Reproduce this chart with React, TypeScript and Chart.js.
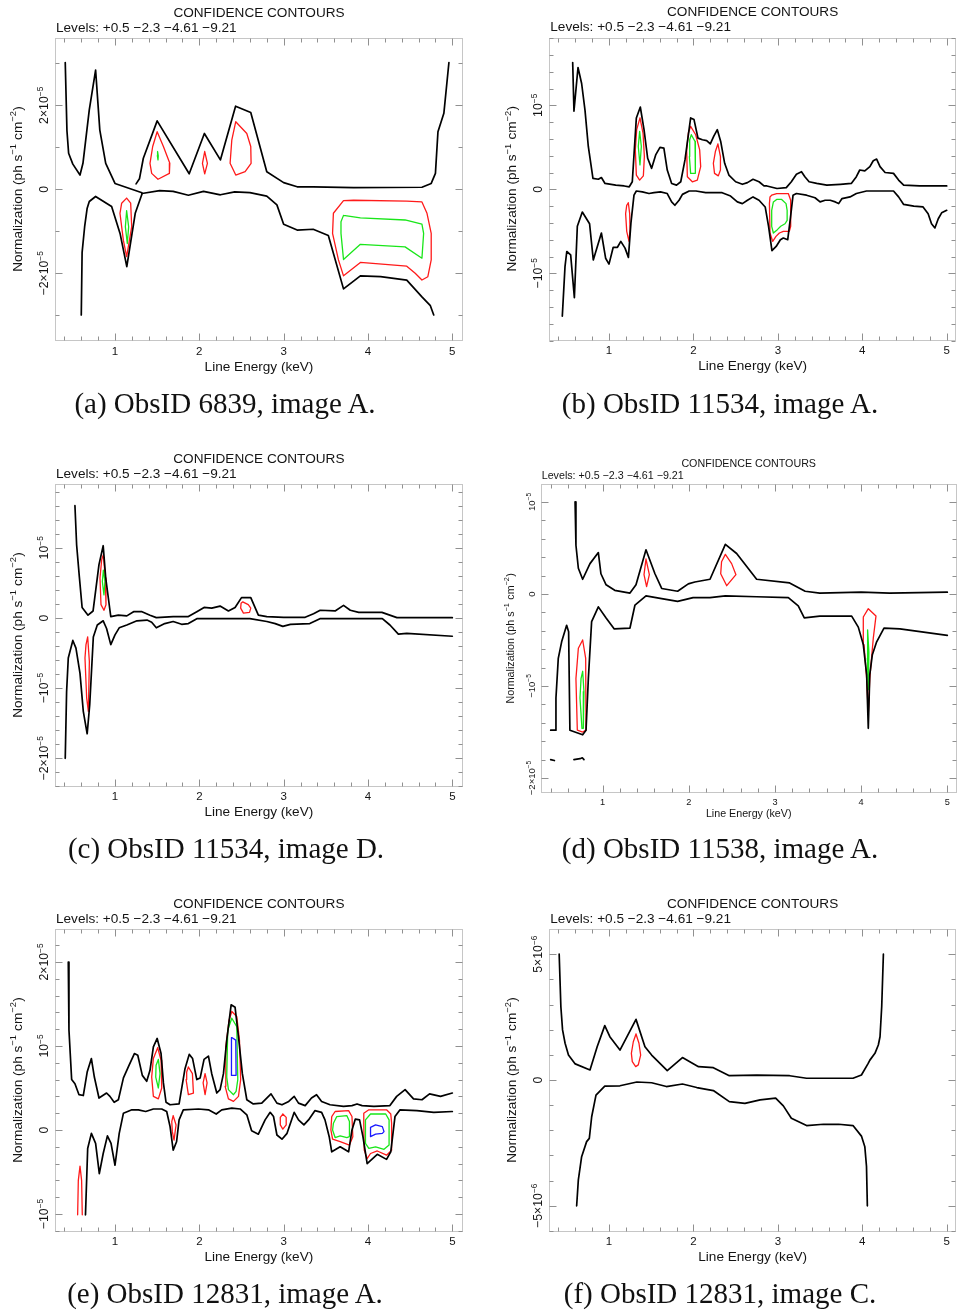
import React, { useEffect, useRef } from 'react';
import { Chart, registerables } from 'chart.js';

Chart.register(...registerables);

type P = [number, number];

// Normalization values are in units of 1e-5 (panel f: 1e-6); energies in keV.

// ---- (a) ObsID 6839, image A ----
const aUpperLeft: P[] = [[0.41, 3.02], [0.43, 1.4], [0.45, 0.86], [0.5, 0.6], [0.585, 0.34], [0.62, 0.62], [0.695, 1.89], [0.77, 2.84], [0.82, 1.41], [0.89, 0.62], [1.0, 0.14], [1.32, -0.08]];
const aUpperRight: P[] = [[1.25, 0.13], [1.29, 0.25], [1.336, 0.74], [1.5, 1.63], [1.88, 0.37], [2.06, 1.33], [2.25, 0.7], [2.43, 1.98], [2.61, 1.83], [2.8, 0.42], [3.0, 0.16], [3.16, 0.06], [3.35, 0.06], [3.83, 0.04], [4.64, 0.05], [4.75, 0.14], [4.8, 0.38], [4.83, 1.37], [4.9, 1.81], [4.96, 3.02]];
const aLowerLeft: P[] = [[0.6, -2.99], [0.61, -1.5], [0.64, -0.89], [0.67, -0.45], [0.695, -0.29], [0.77, -0.17], [0.96, -0.41], [1.06, -1.05], [1.14, -1.84], [1.24, -0.57], [1.32, -0.11]];
const aLowerRight: P[] = [[1.32, -0.1], [1.53, -0.03], [1.69, -0.05], [1.87, -0.14], [2.05, -0.05], [2.25, -0.13], [2.42, -0.06], [2.6, -0.08], [2.8, -0.16], [2.92, -0.37], [3.0, -0.83], [3.16, -0.97], [3.35, -0.95], [3.53, -1.1], [3.71, -2.37], [3.91, -2.06], [4.15, -2.08], [4.46, -2.16], [4.64, -2.56], [4.74, -2.77], [4.78, -2.99]];
const aRed1: P[] = [[1.5, 1.37], [1.574, 1.02], [1.65, 0.62], [1.645, 0.38], [1.51, 0.24], [1.435, 0.38], [1.415, 0.62], [1.447, 1.02]];
const aGreen1: P[] = [[1.505, 0.9], [1.513, 0.8], [1.51, 0.7], [1.502, 0.8]];
const aRed2: P[] = [[2.064, 0.9], [2.096, 0.62], [2.064, 0.37], [2.037, 0.62]];
const aRed3: P[] = [[2.432, 1.61], [2.563, 1.33], [2.61, 1.02], [2.614, 0.62], [2.543, 0.42], [2.432, 0.34], [2.365, 0.62], [2.385, 1.17]];
const aRed4: P[] = [[1.138, -0.21], [1.186, -0.33], [1.198, -0.89], [1.158, -1.37], [1.138, -1.6], [1.099, -1.21], [1.059, -0.57], [1.079, -0.33]];
const aGreen4: P[] = [[1.138, -0.51], [1.162, -0.89], [1.146, -1.29], [1.123, -0.89]];
const aRed5: P[] = [[3.59, -0.57], [3.71, -0.27], [3.83, -0.26], [4.46, -0.28], [4.64, -0.3], [4.7, -0.57], [4.75, -1.05], [4.75, -1.68], [4.71, -2.08], [4.64, -2.16], [4.56, -2.0], [4.46, -1.83], [3.91, -1.74], [3.71, -2.06], [3.65, -1.68], [3.58, -1.05]];
const aGreen5: P[] = [[3.71, -0.62], [3.91, -0.68], [4.44, -0.73], [4.64, -0.83], [4.66, -1.05], [4.64, -1.64], [4.44, -1.37], [3.91, -1.31], [3.71, -1.67], [3.68, -1.05], [3.68, -0.77]];
const aYTicks = [-2, 0, 2];
const aYLabels: [string, string][] = [['−2×10', '−5'], ['0', ''], ['2×10', '−5']];

// ---- (b) ObsID 11534, image A ----
const bUpper: P[] = [[0.57, 1.51], [0.585, 0.93], [0.633, 1.45], [0.676, 1.26], [0.716, 0.94], [0.755, 0.51], [0.81, 0.13], [0.874, 0.12], [0.91, 0.14], [0.953, 0.07], [1.08, 0.05], [1.18, 0.04], [1.24, 0.03], [1.276, 0.09], [1.324, 0.85], [1.371, 0.98], [1.415, 0.71], [1.458, 0.37], [1.505, 0.25], [1.553, 0.41], [1.604, 0.5], [1.65, 0.49], [1.69, 0.23], [1.742, 0.07], [1.8, 0.05], [1.85, 0.09], [1.9, 0.35], [1.967, 0.85], [2.007, 0.83], [2.054, 0.61], [2.106, 0.59], [2.157, 0.58], [2.2, 0.54], [2.24, 0.63], [2.283, 0.71], [2.323, 0.57], [2.37, 0.31], [2.42, 0.17], [2.5, 0.09], [2.58, 0.06], [2.64, 0.08], [2.706, 0.12], [2.777, 0.09], [2.836, 0.04], [2.87, 0.04], [2.99, 0.01], [3.1, 0.02], [3.16, 0.09], [3.22, 0.18], [3.28, 0.21], [3.32, 0.15], [3.37, 0.09], [3.46, 0.07], [3.58, 0.05], [3.74, 0.06], [3.87, 0.07], [3.93, 0.15], [3.97, 0.23], [4.03, 0.22], [4.09, 0.27], [4.13, 0.34], [4.17, 0.36], [4.21, 0.27], [4.27, 0.2], [4.37, 0.19], [4.43, 0.11], [4.49, 0.05], [4.68, 0.04], [5.0, 0.04]];
const bLower: P[] = [[0.447, -1.51], [0.479, -0.92], [0.5, -0.74], [0.546, -0.78], [0.59, -1.29], [0.625, -0.44], [0.684, -0.27], [0.77, -0.41], [0.814, -0.84], [0.91, -0.52], [0.96, -0.82], [1.0, -0.89], [1.05, -0.69], [1.1, -0.69], [1.14, -0.62], [1.19, -0.7], [1.23, -0.81], [1.26, -0.4], [1.296, -0.07], [1.324, -0.02], [1.395, -0.03], [1.474, -0.05], [1.533, -0.04], [1.61, -0.03], [1.69, -0.05], [1.742, -0.15], [1.78, -0.19], [1.83, -0.13], [1.87, -0.06], [1.95, -0.02], [2.03, -0.02], [2.145, -0.04], [2.34, -0.04], [2.44, -0.08], [2.52, -0.15], [2.58, -0.17], [2.64, -0.13], [2.706, -0.09], [2.777, -0.13], [2.85, -0.21], [2.89, -0.44], [2.93, -0.73], [2.98, -0.68], [3.03, -0.6], [3.065, -0.58], [3.117, -0.6], [3.15, -0.33], [3.18, -0.07], [3.22, -0.05], [3.34, -0.07], [3.44, -0.1], [3.5, -0.15], [3.56, -0.13], [3.62, -0.13], [3.68, -0.15], [3.72, -0.17], [3.76, -0.11], [3.855, -0.09], [3.93, -0.05], [4.05, -0.02], [4.37, -0.02], [4.43, -0.09], [4.49, -0.18], [4.61, -0.2], [4.72, -0.21], [4.78, -0.29], [4.82, -0.41], [4.86, -0.46], [4.9, -0.35], [4.94, -0.28], [5.0, -0.25]];
const bRed1: P[] = [[1.367, 0.85], [1.403, 0.67], [1.419, 0.39], [1.407, 0.16], [1.363, 0.11], [1.324, 0.17], [1.312, 0.47], [1.328, 0.71]];
const bGreen1: P[] = [[1.363, 0.69], [1.383, 0.51], [1.367, 0.29], [1.347, 0.51]];
const bRed2: P[] = [[1.967, 0.75], [2.027, 0.65], [2.074, 0.47], [2.086, 0.27], [2.046, 0.11], [1.987, 0.09], [1.928, 0.15], [1.92, 0.47], [1.94, 0.67]];
const bGreen2: P[] = [[1.975, 0.65], [2.019, 0.57], [2.027, 0.35], [2.019, 0.19], [1.967, 0.19], [1.952, 0.39], [1.956, 0.59]];
const bRed3: P[] = [[2.29, 0.54], [2.32, 0.39], [2.32, 0.23], [2.295, 0.16], [2.25, 0.19], [2.236, 0.31], [2.26, 0.45]];
const bRed4: P[] = [[1.229, -0.16], [1.245, -0.29], [1.249, -0.48], [1.237, -0.62], [1.21, -0.5], [1.197, -0.29], [1.21, -0.19]];
const bRed5: P[] = [[2.927, -0.07], [2.986, -0.05], [3.124, -0.05], [3.152, -0.13], [3.152, -0.44], [3.136, -0.5], [3.065, -0.5], [3.018, -0.52], [2.978, -0.56], [2.939, -0.62], [2.907, -0.52], [2.9, -0.17], [2.907, -0.09]];
const bGreen5: P[] = [[2.947, -0.15], [2.986, -0.12], [3.045, -0.12], [3.097, -0.17], [3.11, -0.25], [3.11, -0.37], [3.085, -0.41], [3.034, -0.44], [2.994, -0.48], [2.947, -0.52], [2.927, -0.44], [2.927, -0.25]];
const bYTicks = [-1, 0, 1];
const bYLabels: [string, string][] = [['−10', '−5'], ['0', ''], ['10', '−5']];

// ---- (c) ObsID 11534, image D ----
const cUpper: P[] = [[0.525, 1.6], [0.545, 1.04], [0.577, 0.59], [0.61, 0.15], [0.68, 0.04], [0.74, 0.1], [0.81, 0.76], [0.86, 1.03], [0.89, 0.57], [0.95, 0.02], [1.04, 0.04], [1.14, 0.03], [1.22, 0.09], [1.32, 0.09], [1.415, 0.04], [1.49, 0.005], [1.69, 0.02], [1.87, 0.02], [1.97, 0.09], [2.056, 0.15], [2.147, 0.14], [2.246, 0.17], [2.345, 0.1], [2.424, 0.15], [2.5, 0.29], [2.61, 0.29], [2.7, 0.04], [2.8, 0.02], [3.0, 0.01], [3.255, 0.01], [3.354, 0.06], [3.433, 0.11], [3.61, 0.1], [3.71, 0.18], [3.79, 0.11], [3.89, 0.08], [4.165, 0.08], [4.343, 0.005], [5.0, 0.005]];
const cLower: P[] = [[0.41, -2.0], [0.426, -1.05], [0.446, -0.57], [0.5, -0.32], [0.537, -0.43], [0.585, -0.79], [0.624, -1.33], [0.67, -1.65], [0.7, -1.24], [0.743, -0.27], [0.79, -0.1], [0.86, -0.04], [0.9, -0.15], [0.95, -0.38], [1.0, -0.24], [1.05, -0.14], [1.14, -0.1], [1.26, -0.04], [1.38, -0.03], [1.435, -0.06], [1.49, -0.14], [1.59, -0.08], [1.69, -0.05], [1.79, -0.09], [1.87, -0.08], [1.97, -0.01], [2.4, -0.01], [2.6, -0.01], [2.8, -0.05], [2.9, -0.08], [2.99, -0.12], [3.08, -0.09], [3.31, -0.08], [3.43, -0.01], [4.17, -0.01], [4.26, -0.1], [4.36, -0.23], [4.46, -0.22], [5.0, -0.26]];
const cRed1: P[] = [[0.862, 0.9], [0.885, 0.57], [0.893, 0.19], [0.869, 0.11], [0.834, 0.19], [0.822, 0.57], [0.842, 0.83]];
const cGreen1: P[] = [[0.862, 0.68], [0.881, 0.52], [0.869, 0.33], [0.85, 0.52]];
const cRed2: P[] = [[0.676, -0.27], [0.696, -0.62], [0.684, -1.33], [0.664, -1.14], [0.644, -0.57], [0.656, -0.38]];
const cRed3: P[] = [[2.515, 0.23], [2.58, 0.19], [2.61, 0.14], [2.595, 0.08], [2.523, 0.07], [2.49, 0.14], [2.495, 0.21]];
const cYTicks = [-2, -1, 0, 1];
const cYLabels: [string, string][] = [['−2×10', '−5'], ['−10', '−5'], ['0', ''], ['10', '−5']];

// ---- (d) ObsID 11538, image A ----
const dUpper: P[] = [[0.68, 1.0], [0.69, 0.53], [0.718, 0.28], [0.768, 0.16], [0.853, 0.33], [0.95, 0.45], [0.98, 0.22], [1.04, 0.1], [1.14, 0.04], [1.317, 0.01], [1.387, 0.1], [1.503, 0.48], [1.607, 0.22], [1.685, 0.06], [1.87, 0.03], [1.994, 0.11], [2.07, 0.13], [2.246, 0.16], [2.424, 0.54], [2.555, 0.44], [2.787, 0.16], [3.17, 0.12], [3.35, 0.03], [3.52, 0.01], [4.0, 0.02], [4.33, 0.01], [5.0, 0.02]];
const dLower: P[] = [[0.397, -1.48], [0.447, -1.48], [0.458, -1.13], [0.485, -0.7], [0.524, -0.52], [0.582, -0.34], [0.605, -0.41], [0.62, -1.48], [0.768, -1.53], [0.807, -1.48], [0.834, -0.92], [0.872, -0.3], [0.95, -0.14], [1.04, -0.26], [1.135, -0.38], [1.317, -0.37], [1.375, -0.12], [1.503, -0.02], [1.685, -0.05], [1.87, -0.08], [2.05, -0.04], [2.246, -0.04], [2.424, -0.02], [2.787, -0.03], [3.155, -0.04], [3.27, -0.13], [3.34, -0.26], [3.52, -0.24], [3.89, -0.24], [3.967, -0.36], [4.025, -0.55], [4.064, -0.88], [4.083, -1.46], [4.1, -0.88], [4.13, -0.66], [4.18, -0.52], [4.265, -0.37], [4.45, -0.38], [5.0, -0.45]];
const dStubLeft: P[] = [[0.397, -1.8], [0.44, -1.81]];
const dStubMid: P[] = [[0.667, -1.8], [0.737, -1.79], [0.764, -1.78], [0.783, -1.8]];
const dRed1: P[] = [[1.503, 0.38], [1.542, 0.21], [1.51, 0.08], [1.48, 0.21]];
const dRed2: P[] = [[2.424, 0.43], [2.497, 0.33], [2.547, 0.21], [2.44, 0.09], [2.37, 0.22], [2.38, 0.35]];
const dRed3: P[] = [[0.768, -0.5], [0.803, -0.7], [0.807, -1.48], [0.768, -1.5], [0.706, -1.48], [0.69, -0.92], [0.718, -0.59]];
const dGreen3: P[] = [[0.768, -0.84], [0.783, -1.06], [0.776, -1.46], [0.76, -1.46], [0.737, -1.13], [0.749, -0.92]];
const dRed4: P[] = [[4.025, -0.25], [4.083, -0.16], [4.172, -0.24], [4.141, -0.48], [4.1, -0.92], [4.083, -1.31], [4.064, -0.92], [4.033, -0.55]];
const dGreen4: P[] = [[4.075, -0.39], [4.09, -0.63], [4.083, -1.04], [4.072, -0.7]];
const dYTicks = [-2, -1, 0, 1];
const dYLabels: [string, string][] = [['−2×10', '−5'], ['−10', '−5'], ['0', ''], ['10', '−5']];

// ---- (e) ObsID 12831, image A ----
const eUpper: P[] = [[0.446, 2.0], [0.454, 1.19], [0.486, 0.6], [0.525, 0.55], [0.573, 0.42], [0.624, 0.41], [0.67, 0.69], [0.72, 0.85], [0.755, 0.63], [0.81, 0.38], [0.9, 0.44], [0.94, 0.4], [0.99, 0.33], [1.04, 0.36], [1.1, 0.62], [1.166, 0.77], [1.23, 0.91], [1.27, 0.89], [1.324, 0.65], [1.376, 0.58], [1.415, 0.71], [1.455, 0.99], [1.5, 1.09], [1.546, 0.91], [1.574, 0.56], [1.605, 0.33], [1.653, 0.3], [1.76, 0.31], [1.83, 0.73], [1.88, 0.9], [1.92, 0.85], [1.97, 0.6], [2.01, 0.62], [2.056, 0.84], [2.108, 0.88], [2.147, 0.67], [2.207, 0.44], [2.246, 0.48], [2.286, 0.67], [2.325, 1.07], [2.377, 1.49], [2.424, 1.46], [2.464, 1.11], [2.51, 0.67], [2.563, 0.36], [2.64, 0.31], [2.74, 0.32], [2.85, 0.43], [2.92, 0.32], [2.98, 0.3], [3.06, 0.34], [3.125, 0.4], [3.176, 0.32], [3.255, 0.29], [3.33, 0.38], [3.39, 0.42], [3.45, 0.34], [3.55, 0.3], [3.71, 0.28], [3.81, 0.29], [3.87, 0.31], [3.93, 0.29], [4.07, 0.28], [4.26, 0.29], [4.34, 0.4], [4.44, 0.48], [4.54, 0.37], [4.64, 0.36], [4.73, 0.43], [4.86, 0.4], [5.0, 0.44]];
const eLower: P[] = [[0.65, -1.01], [0.676, -0.22], [0.72, -0.04], [0.77, -0.16], [0.814, -0.52], [0.86, -0.28], [0.91, -0.07], [0.953, -0.16], [1.0, -0.42], [1.05, -0.04], [1.1, 0.2], [1.2, 0.24], [1.277, 0.24], [1.364, 0.22], [1.455, 0.25], [1.554, 0.25], [1.613, 0.22], [1.653, 0.04], [1.69, -0.24], [1.73, -0.14], [1.76, 0.12], [1.81, 0.24], [1.99, 0.25], [2.108, 0.24], [2.2, 0.19], [2.266, 0.24], [2.385, 0.26], [2.484, 0.25], [2.563, 0.18], [2.62, -0.01], [2.7, -0.05], [2.78, 0.12], [2.84, 0.21], [2.88, 0.16], [2.92, -0.06], [2.98, -0.11], [3.04, -0.04], [3.125, 0.21], [3.176, 0.12], [3.24, 0.06], [3.295, 0.12], [3.37, 0.23], [3.45, 0.21], [3.49, 0.12], [3.54, -0.08], [3.57, -0.26], [3.67, -0.2], [3.77, -0.26], [3.81, 0.0], [3.85, 0.13], [3.9, 0.12], [3.94, -0.08], [3.99, -0.4], [4.11, -0.29], [4.22, -0.35], [4.27, -0.26], [4.32, 0.16], [4.38, 0.24], [4.58, 0.23], [4.78, 0.21], [5.0, 0.22]];
const eRed1: P[] = [[1.506, 0.98], [1.546, 0.83], [1.554, 0.5], [1.514, 0.37], [1.455, 0.4], [1.435, 0.63], [1.455, 0.85]];
const eGreen1: P[] = [[1.514, 0.84], [1.534, 0.67], [1.514, 0.5], [1.483, 0.63], [1.487, 0.77]];
const eRed2: P[] = [[1.87, 0.75], [1.918, 0.67], [1.93, 0.44], [1.87, 0.42], [1.843, 0.6], [1.85, 0.69]];
const eRed3: P[] = [[2.068, 0.67], [2.092, 0.56], [2.068, 0.42], [2.045, 0.56]];
const eRed4: P[] = [[2.385, 1.41], [2.444, 1.35], [2.476, 1.07], [2.49, 0.6], [2.464, 0.4], [2.405, 0.34], [2.345, 0.37], [2.306, 0.52], [2.314, 0.99], [2.353, 1.31]];
const eGreen4: P[] = [[2.385, 1.33], [2.444, 1.23], [2.456, 0.6], [2.436, 0.46], [2.405, 0.42], [2.345, 0.48], [2.325, 0.63], [2.337, 1.19]];
const eBlue4: P[] = [[2.385, 1.1], [2.432, 1.07], [2.436, 0.65], [2.385, 0.65], [2.377, 0.91]];
const eRed5: P[] = [[1.69, 0.17], [1.724, 0.06], [1.7, -0.12], [1.68, -0.02], [1.673, 0.1]];
const eRed6: P[] = [[0.557, -1.01], [0.565, -0.6], [0.585, -0.43], [0.604, -0.6], [0.612, -1.01]];
const eRed7: P[] = [[2.99, 0.19], [3.03, 0.15], [3.03, 0.06], [2.99, 0.01], [2.96, 0.06], [2.96, 0.15]];
const eRed8: P[] = [[3.57, 0.16], [3.61, 0.22], [3.77, 0.23], [3.81, 0.16], [3.82, -0.08], [3.78, -0.18], [3.67, -0.14], [3.58, -0.11], [3.56, 0.0]];
const eGreen8: P[] = [[3.59, 0.08], [3.63, 0.16], [3.75, 0.17], [3.78, 0.1], [3.78, -0.08], [3.75, -0.09], [3.67, -0.07], [3.61, -0.09], [3.58, 0.0]];
const eRed9: P[] = [[3.95, 0.2], [4.01, 0.24], [4.22, 0.24], [4.27, 0.19], [4.28, 0.08], [4.28, -0.24], [4.22, -0.3], [4.11, -0.25], [4.03, -0.28], [3.99, -0.34], [3.955, -0.24], [3.95, 0.08]];
const eGreen9: P[] = [[3.97, 0.12], [4.03, 0.19], [4.21, 0.19], [4.25, 0.12], [4.25, -0.18], [4.19, -0.23], [4.09, -0.2], [4.01, -0.22], [3.97, -0.16]];
const eBlue9: P[] = [[4.03, 0.03], [4.09, 0.06], [4.17, 0.04], [4.19, -0.02], [4.17, -0.04], [4.09, -0.05], [4.03, -0.08], [4.03, -0.02]];
const eYTicks = [-1, 0, 1, 2];
const eYLabels: [string, string][] = [['−10', '−5'], ['0', ''], ['10', '−5'], ['2×10', '−5']];

// ---- (f) ObsID 12831, image C (units of 1e-6) ----
const fUpper: P[] = [[0.41, 5.0], [0.43, 2.91], [0.45, 1.99], [0.48, 1.46], [0.52, 0.99], [0.6, 0.64], [0.775, 0.4], [0.86, 1.32], [0.95, 2.16], [1.01, 1.72], [1.13, 1.19], [1.32, 2.41], [1.426, 1.32], [1.505, 0.99], [1.69, 0.37], [1.87, 0.89], [2.06, 0.53], [2.236, 0.49], [2.425, 0.17], [2.75, 0.19], [3.14, 0.17], [3.34, 0.07], [3.89, 0.07], [3.99, 0.2], [4.07, 0.66], [4.09, 0.79], [4.15, 1.06], [4.19, 1.39], [4.21, 1.72], [4.23, 2.91], [4.25, 5.0]];
const fLower: P[] = [[0.617, -5.0], [0.637, -3.97], [0.676, -3.05], [0.735, -2.45], [0.767, -2.32], [0.795, -1.46], [0.846, -0.6], [0.95, -0.24], [1.13, -0.23], [1.33, -0.08], [1.505, -0.11], [1.68, -0.26], [1.87, -0.16], [2.04, -0.3], [2.236, -0.42], [2.425, -0.86], [2.61, -0.93], [2.79, -0.79], [2.974, -0.72], [3.065, -1.03], [3.16, -1.52], [3.34, -1.81], [3.54, -1.76], [3.72, -1.76], [3.89, -1.81], [3.99, -2.23], [4.03, -2.65], [4.05, -3.44], [4.06, -5.0]];
const fRed1: P[] = [[1.32, 1.83], [1.355, 1.46], [1.375, 0.99], [1.347, 0.6], [1.316, 0.53], [1.276, 0.73], [1.265, 1.06], [1.288, 1.52]];
const fYTicks = [-5, 0, 5];
const fYLabels: [string, string][] = [['−5×10', '−6'], ['0', ''], ['5×10', '−6']];

const X_TICKS = [1, 2, 3, 4, 5];
const LEVELS_TEXT = 'Levels: +0.5 −2.3 −4.61 −9.21';

const BLACK = '#000000';
const RED = '#ff1a1a';
const GREEN = '#19e619';
const BLUE = '#1a1aff';

const SANS = '"Liberation Sans", Arial, Helvetica, sans-serif';
const TEXT = '#141414';

type Curve = { pts: P[]; color: string; closed?: boolean };
type Frame = { left: number; top: number; right: number; bottom: number };
type PanelCfg = {
  id: string;
  canvasLeft: number;
  canvasTop: number;
  frame: Frame;
  xRange: [number, number];
  yRange: [number, number];
  yTicks: number[];
  yLabels: [string, string][];
  yMinor: number;
  small: boolean;
  curves: Curve[];
  caption: string;
  captionX: number;
  captionBaseline: number;
};

const CW = 479;
const CH = 390;

const blk = (pts: P[]): Curve => ({ pts, color: BLACK });
const loop = (pts: P[], color: string): Curve => ({ pts, color, closed: true });

const PANELS: PanelCfg[] = [
  {
    id: 'a', canvasLeft: 0, canvasTop: 0,
    frame: { left: 55, top: 38, right: 463, bottom: 341 },
    xRange: [0.2885, 5.127], yRange: [-3.611, 3.603],
    yTicks: aYTicks, yLabels: aYLabels, yMinor: 1, small: false,
    curves: [blk(aUpperLeft), blk(aUpperRight), blk(aLowerLeft), blk(aLowerRight),
      loop(aGreen1, GREEN), loop(aGreen4, GREEN), loop(aGreen5, GREEN),
      loop(aRed1, RED), loop(aRed2, RED), loop(aRed3, RED), loop(aRed4, RED), loop(aRed5, RED)],
    caption: '(a) ObsID 6839, image A.', captionX: 225, captionBaseline: 413,
  },
  {
    id: 'b', canvasLeft: 479, canvasTop: 0,
    frame: { left: 549.3, top: 37.7, right: 956, bottom: 340.7 },
    xRange: [0.293, 5.11], yRange: [-1.802, 1.805],
    yTicks: bYTicks, yLabels: bYLabels, yMinor: 0.2, small: false,
    curves: [blk(bUpper), blk(bLower),
      loop(bGreen1, GREEN), loop(bGreen2, GREEN), loop(bGreen5, GREEN),
      loop(bRed1, RED), loop(bRed2, RED), loop(bRed3, RED), loop(bRed4, RED), loop(bRed5, RED)],
    caption: '(b) ObsID 11534, image A.', captionX: 720, captionBaseline: 413,
  },
  {
    id: 'c', canvasLeft: 0, canvasTop: 445,
    frame: { left: 55, top: 484.3, right: 462.7, bottom: 786.7 },
    xRange: [0.2885, 5.123], yRange: [-2.404, 1.905],
    yTicks: cYTicks, yLabels: cYLabels, yMinor: 0.2, small: false,
    curves: [blk(cUpper), blk(cLower), loop(cGreen1, GREEN),
      loop(cRed1, RED), loop(cRed2, RED), loop(cRed3, RED)],
    caption: '(c) ObsID 11534, image D.', captionX: 226, captionBaseline: 858,
  },
  {
    id: 'd', canvasLeft: 479, canvasTop: 445,
    frame: { left: 540.7, top: 484.3, right: 956.7, bottom: 793.3 },
    xRange: [0.281, 5.109], yRange: [-2.166, 1.192],
    yTicks: dYTicks, yLabels: dYLabels, yMinor: 0.2, small: true,
    curves: [blk(dUpper), blk(dLower), blk(dStubLeft), blk(dStubMid),
      loop(dGreen3, GREEN), loop(dGreen4, GREEN),
      loop(dRed1, RED), loop(dRed2, RED), loop(dRed3, RED), loop(dRed4, RED)],
    caption: '(d) ObsID 11538, image A.', captionX: 720, captionBaseline: 858,
  },
  {
    id: 'e', canvasLeft: 0, canvasTop: 890,
    frame: { left: 55, top: 929.3, right: 462.7, bottom: 1231.7 },
    xRange: [0.2885, 5.123], yRange: [-1.211, 2.389],
    yTicks: eYTicks, yLabels: eYLabels, yMinor: 0.2, small: false,
    curves: [blk(eUpper), blk(eLower),
      loop(eBlue4, BLUE), loop(eBlue9, BLUE),
      loop(eGreen1, GREEN), loop(eGreen4, GREEN), loop(eGreen8, GREEN), loop(eGreen9, GREEN),
      loop(eRed1, RED), loop(eRed2, RED), loop(eRed3, RED), loop(eRed4, RED), loop(eRed5, RED),
      { pts: eRed6, color: RED }, loop(eRed7, RED), loop(eRed8, RED), loop(eRed9, RED)],
    caption: '(e) ObsID 12831, image A.', captionX: 225, captionBaseline: 1303,
  },
  {
    id: 'f', canvasLeft: 479, canvasTop: 890,
    frame: { left: 549.3, top: 929.3, right: 956, bottom: 1231.7 },
    xRange: [0.293, 5.11], yRange: [-6.03, 5.99],
    yTicks: fYTicks, yLabels: fYLabels, yMinor: 1, small: false,
    curves: [blk(fUpper), blk(fLower), loop(fRed1, RED)],
    caption: '(f) ObsID 12831, image C.', captionX: 720, captionBaseline: 1303,
  },
];

type Seg = [string, boolean];

function drawRich(ctx: CanvasRenderingContext2D, segs: Seg[], x: number, y: number, size: number, align: 'left' | 'center') {
  const supSize = size * 0.68;
  const widths = segs.map(([t, sup]) => {
    ctx.font = `${sup ? supSize : size}px ${SANS}`;
    return ctx.measureText(t).width;
  });
  const total = widths.reduce((s, w) => s + w, 0);
  let cx = align === 'center' ? x - total / 2 : x;
  ctx.textAlign = 'left';
  ctx.textBaseline = 'alphabetic';
  segs.forEach(([t, sup], i) => {
    ctx.font = `${sup ? supSize : size}px ${SANS}`;
    ctx.fillText(t, cx, sup ? y - size * 0.42 : y);
    cx += widths[i] + (sup ? 0.5 : 0);
  });
}

function framePlugin(cfg: PanelCfg) {
  const fs = cfg.small ? 10.7 : 13.6;
  const xfs = cfg.small ? 9.2 : 11.5;
  const yfs = cfg.small ? 9.5 : 12.3;
  return {
    id: 'panelFrame' + cfg.id,
    beforeDatasetsDraw(chart: any) {
      const { ctx, chartArea: a, scales } = chart;
      const xs = scales.x;
      const ys = scales.y;
      ctx.save();
      ctx.strokeStyle = '#c6c6c6';
      ctx.lineWidth = 1;
      const L = Math.round(a.left) + 0.5;
      const R = Math.round(a.right) - 0.5;
      const T = Math.round(a.top) + 0.5;
      const B = Math.round(a.bottom) - 0.5;
      ctx.strokeRect(L, T, R - L, B - T);

      ctx.strokeStyle = '#909090';
      ctx.beginPath();
      const [x0, x1] = cfg.xRange;
      for (let k = Math.ceil(x0 / 0.2 - 1e-9); k * 0.2 <= x1 + 1e-9; k++) {
        const v = k * 0.2;
        const major = Math.abs(v - Math.round(v)) < 1e-6;
        const len = major ? 7 : 4;
        const px = Math.round(xs.getPixelForValue(v)) + 0.5;
        ctx.moveTo(px, B); ctx.lineTo(px, B - len);
        ctx.moveTo(px, T); ctx.lineTo(px, T + len);
      }
      const [y0, y1] = cfg.yRange;
      const st = cfg.yMinor;
      for (let k = Math.ceil(y0 / st - 1e-9); k * st <= y1 + 1e-9; k++) {
        const v = k * st;
        const major = cfg.yTicks.some((t) => Math.abs(t - v) < 1e-6);
        const len = major ? 7 : 4;
        const py = Math.round(ys.getPixelForValue(v)) + 0.5;
        ctx.moveTo(L, py); ctx.lineTo(L + len, py);
        ctx.moveTo(R, py); ctx.lineTo(R - len, py);
      }
      ctx.stroke();
      ctx.restore();
    },
    afterDraw(chart: any) {
      const { ctx, chartArea: a, scales } = chart;
      const xs = scales.x;
      const ys = scales.y;
      const cxm = (a.left + a.right) / 2;
      const cym = (a.top + a.bottom) / 2;
      ctx.save();
      ctx.fillStyle = TEXT;

      // headline and contour levels
      drawRich(ctx, [['CONFIDENCE CONTOURS', false]], cxm, a.top - (cfg.small ? 17.3 : 21.5), fs, 'center');
      drawRich(ctx, [[LEVELS_TEXT, false]], a.left + 1, a.top - (cfg.small ? 5 : 6.5), fs, 'left');

      // x tick labels and title
      X_TICKS.forEach((v) => {
        drawRich(ctx, [[String(v), false]], xs.getPixelForValue(v), a.bottom + (cfg.small ? 12 : 13.5), xfs, 'center');
      });
      drawRich(ctx, [['Line Energy (keV)', false]], cxm, a.bottom + (cfg.small ? 24 : 29.5), fs, 'center');

      // y tick labels, rotated
      cfg.yTicks.forEach((v, i) => {
        const [base, sup] = cfg.yLabels[i];
        const segs: Seg[] = sup ? [[base, false], [sup, true]] : [[base, false]];
        ctx.save();
        ctx.translate(a.left - (cfg.small ? 6 : 7), ys.getPixelForValue(v));
        ctx.rotate(-Math.PI / 2);
        drawRich(ctx, segs, 0, 0, yfs, 'center');
        ctx.restore();
      });

      // y title, rotated
      ctx.save();
      ctx.translate(a.left - (cfg.small ? 27 : 33), cym);
      ctx.rotate(-Math.PI / 2);
      drawRich(ctx, [['Normalization (ph s', false], ['−1', true], [' cm', false], ['−2', true], [')', false]], 0, 0, fs, 'center');
      ctx.restore();

      ctx.restore();
    },
  };
}

function Panel({ cfg }: { cfg: PanelCfg }) {
  const ref = useRef<HTMLCanvasElement>(null);
  useEffect(() => {
    const canvas = ref.current;
    if (!canvas) return;
    const f = cfg.frame;
    const chart = new Chart(canvas, {
      type: 'line',
      data: {
        datasets: cfg.curves.map((c) => {
          const pts = c.closed ? [...c.pts, c.pts[0]] : c.pts;
          return {
            data: pts.map(([x, y]) => ({ x, y })),
            borderColor: c.color,
            borderWidth: c.color === BLACK ? 1.7 : 1.3,
            pointRadius: 0,
            fill: false,
            tension: 0,
            borderJoinStyle: 'round' as const,
            borderCapStyle: 'round' as const,
          };
        }),
      },
      options: {
        animation: false,
        responsive: false,
        devicePixelRatio: 1,
        events: [],
        layout: {
          padding: {
            left: f.left - cfg.canvasLeft,
            top: f.top - cfg.canvasTop,
            right: cfg.canvasLeft + CW - f.right,
            bottom: cfg.canvasTop + CH - f.bottom,
          },
        },
        plugins: {
          legend: { display: false },
          tooltip: { enabled: false },
          title: { display: false },
        },
        scales: {
          x: { type: 'linear', min: cfg.xRange[0], max: cfg.xRange[1], display: false },
          y: { type: 'linear', min: cfg.yRange[0], max: cfg.yRange[1], display: false },
        },
      },
      plugins: [framePlugin(cfg)],
    } as any);
    return () => chart.destroy();
  }, [cfg]);
  return (
    <canvas
      ref={ref}
      width={CW}
      height={CH}
      style={{ position: 'absolute', left: cfg.canvasLeft, top: cfg.canvasTop, width: CW, height: CH }}
    />
  );
}

export default function App() {
  return (
    <div style={{ position: 'absolute', left: 0, top: 0, width: 958, height: 1313, background: '#ffffff', overflow: 'hidden' }}>
      {PANELS.map((p) => (
        <Panel key={p.id} cfg={p} />
      ))}
      {PANELS.map((p) => (
        <div
          key={'cap' + p.id}
          style={{
            position: 'absolute',
            left: p.captionX - 240,
            width: 480,
            top: p.captionBaseline - 24.2,
            textAlign: 'center',
            fontFamily: '"Liberation Serif", "Times New Roman", serif',
            fontSize: 29,
            lineHeight: '29px',
            color: '#111',
            whiteSpace: 'nowrap',
          }}
        >
          {p.caption}
        </div>
      ))}
    </div>
  );
}
